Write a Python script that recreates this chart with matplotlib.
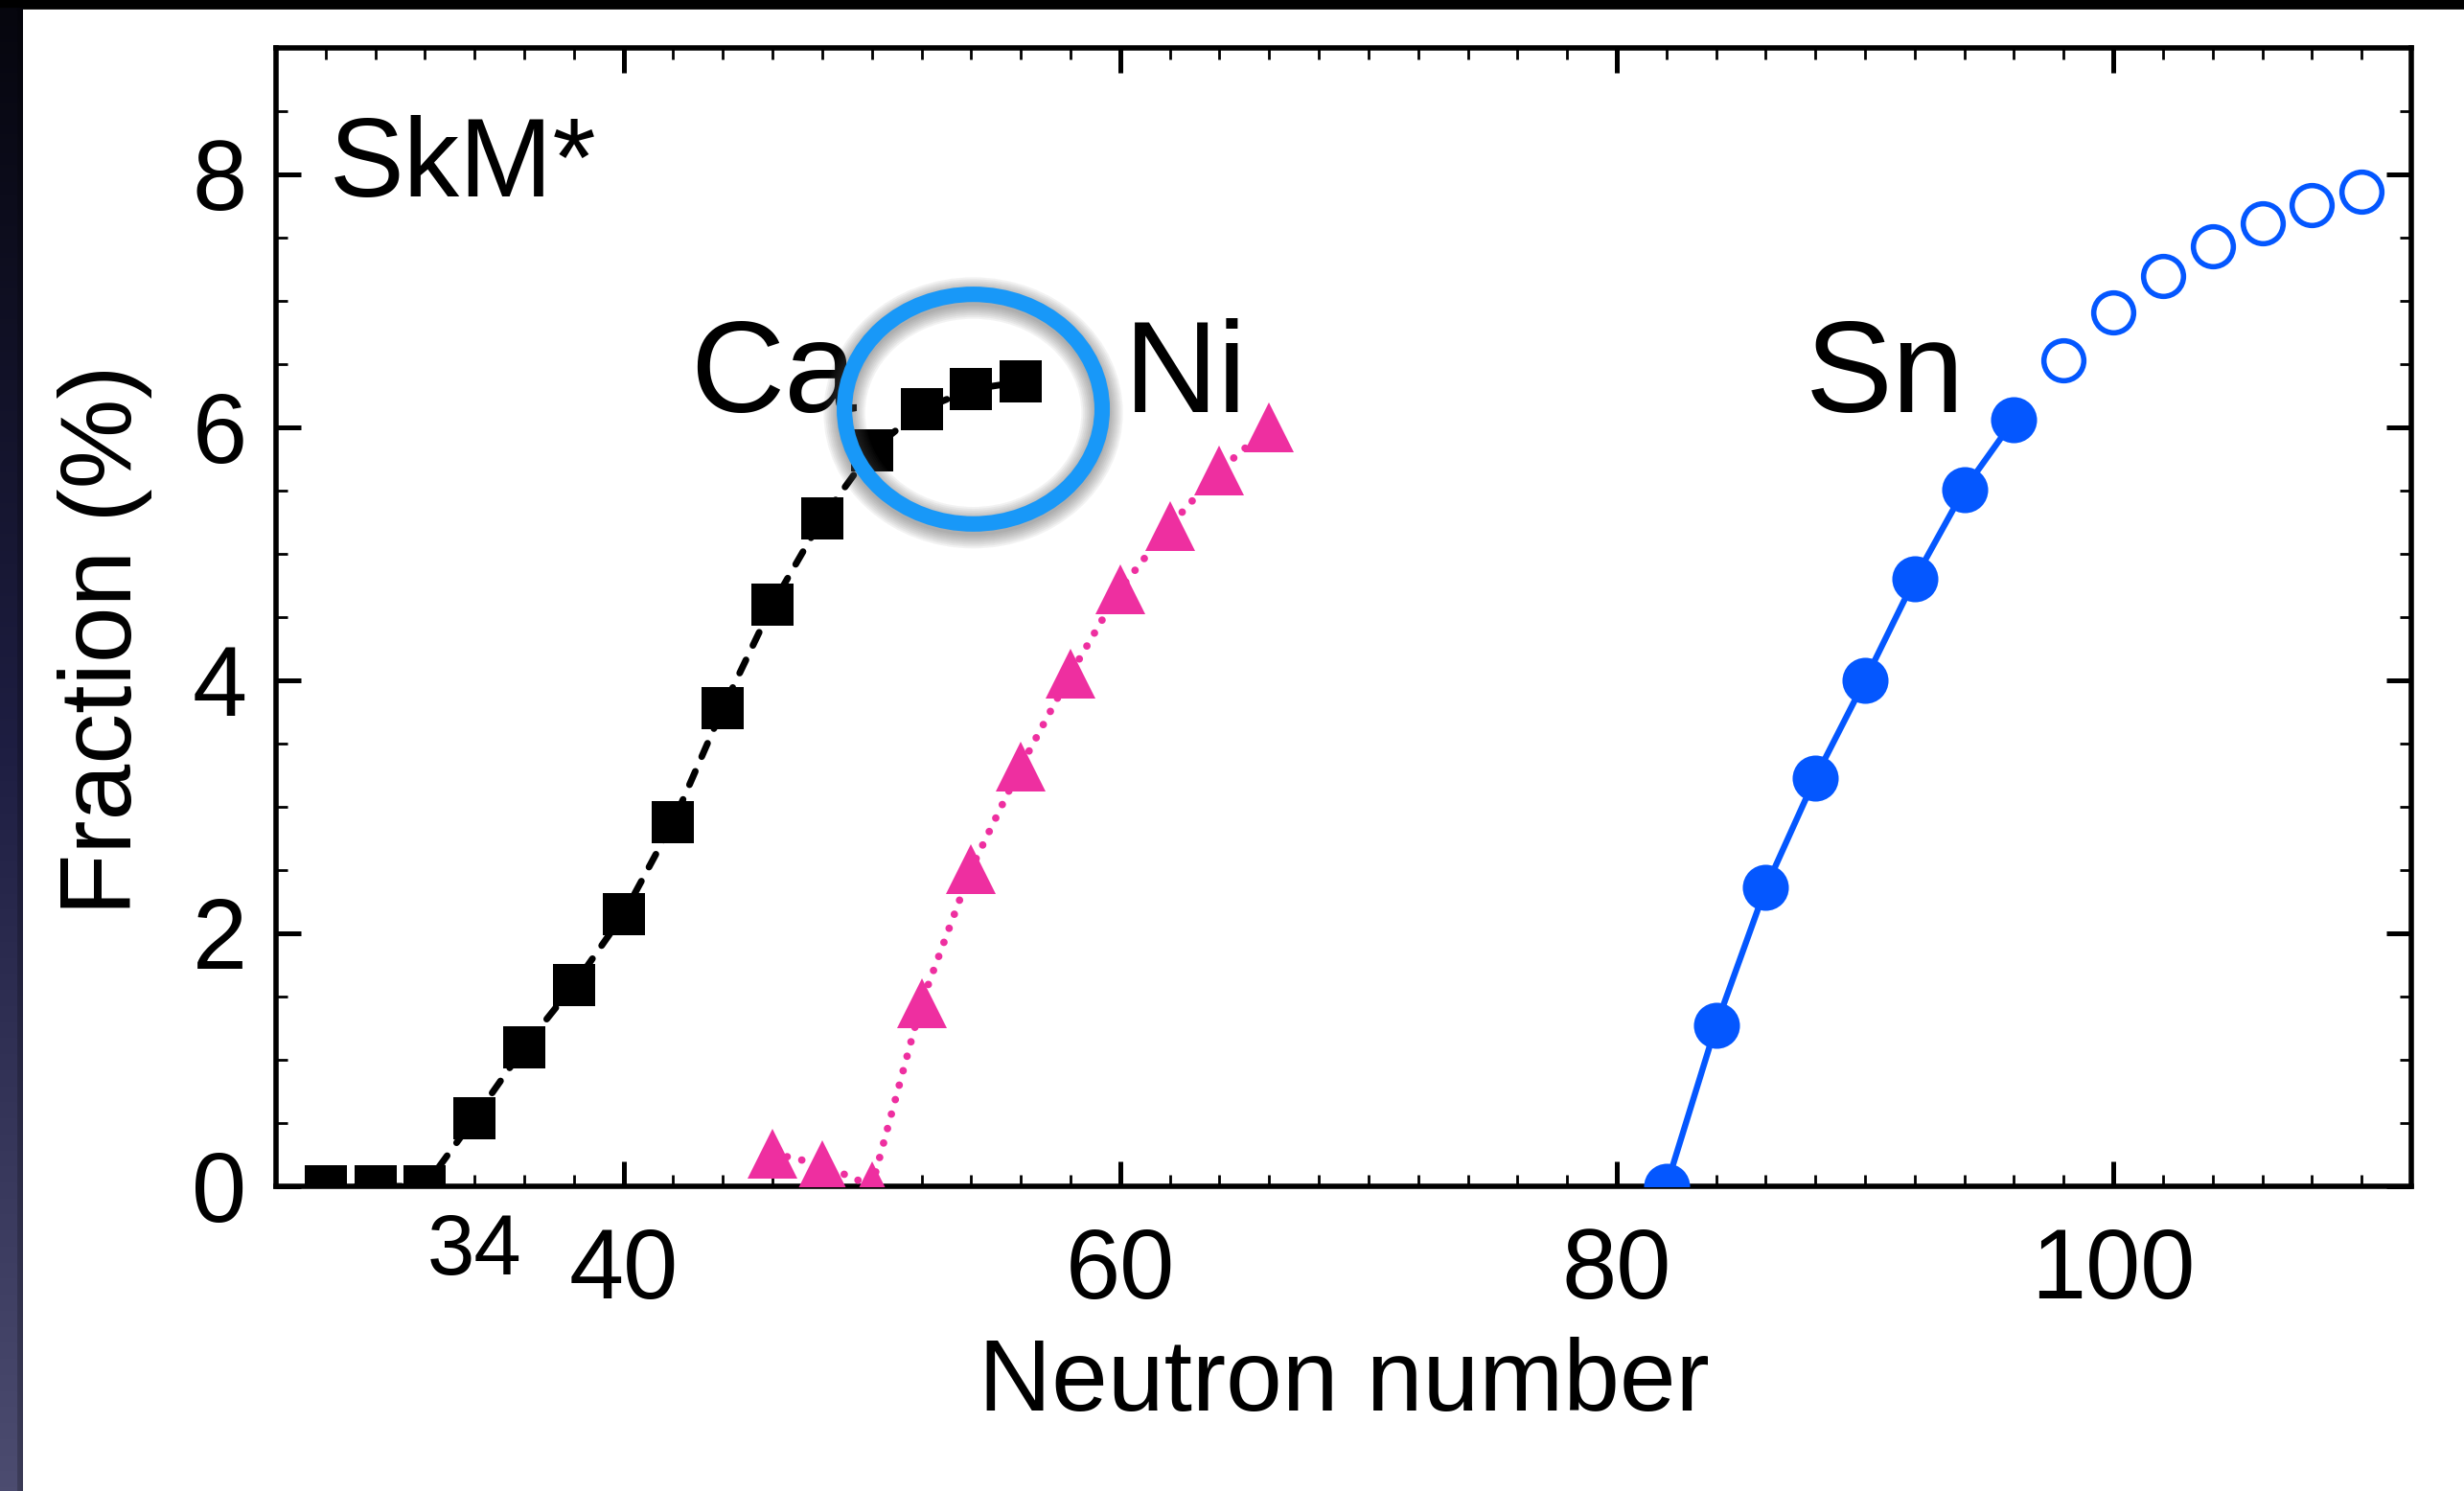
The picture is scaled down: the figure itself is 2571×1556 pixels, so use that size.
import numpy as np
import matplotlib
matplotlib.use("Agg")
import matplotlib.pyplot as plt
from matplotlib.patches import Ellipse, Rectangle
from matplotlib.ticker import MultipleLocator, FixedLocator
from matplotlib.transforms import blended_transform_factory

# neutron number / fraction (%)
ca_n = [28, 30, 32, 34, 36, 38, 40, 42, 44, 46, 48, 50, 52, 54, 56]
ca_frac = [0.0, 0.0, 0.0, 0.54, 1.1, 1.59, 2.15, 2.88, 3.78, 4.6, 5.28, 5.82, 6.14, 6.30, 6.36]

ni_n = [46, 48, 50, 52, 54, 56, 58, 60, 62, 64, 66]
ni_frac = [0.26, 0.17, 0.0, 1.45, 2.51, 3.32, 4.05, 4.72, 5.22, 5.66, 6.0]

sn_n = [82, 84, 86, 88, 90, 92, 94, 96]
sn_frac = [0.0, 1.27, 2.36, 3.23, 4.0, 4.8, 5.51, 6.06]

sn_open_n = [98, 100, 102, 104, 106, 108, 110]
sn_open_frac = [6.53, 6.91, 7.20, 7.43, 7.61, 7.76, 7.86]

x_major = [40, 60, 80, 100]
y_major = [0, 2, 4, 6, 8]

BLACK = "#000000"
PINK = "#ee2fa0"
BLUE = "#0457ff"
RING = "#1898f8"

plt.rcParams["font.family"] = ["Liberation Sans", "DejaVu Sans"]

fig = plt.figure(figsize=(12.855, 7.78), dpi=200, facecolor="white")
ax = fig.add_axes([0.112, 0.2044, 0.8666, 0.7635])

ax.plot(ca_n, ca_frac, color=BLACK, lw=2.5, dashes=(2.2, 2.4),
        dash_capstyle="round", marker="s", ms=16, mew=0, zorder=3)
ax.plot(ni_n, ni_frac, color=PINK, lw=2.8, dashes=(0.01, 2.0),
        dash_capstyle="round", marker="^", ms=18.5, mew=0, zorder=3)
ax.plot(sn_n, sn_frac, color=BLUE, lw=2.3, marker="o", ms=17.3, mew=0, zorder=3)
ax.plot(sn_open_n, sn_open_frac, ls="none", marker="o", ms=15, mew=2.0,
        mfc="white", mec=BLUE, zorder=3)

ax.set_xlim(26, 112)
ax.set_ylim(0, 9)
ax.xaxis.set_major_locator(FixedLocator(x_major))
ax.xaxis.set_minor_locator(MultipleLocator(2))
ax.yaxis.set_major_locator(FixedLocator(y_major))
ax.yaxis.set_minor_locator(MultipleLocator(0.5))

for s in ax.spines.values():
    s.set_linewidth(2.0)
ax.tick_params(which="both", direction="in", top=True, right=True)
ax.tick_params(which="major", length=9.5, width=1.8, labelsize=37)
ax.tick_params(which="minor", length=4.3, width=1.0)
ax.tick_params(axis="x", which="major", pad=15)
ax.tick_params(axis="y", which="major", pad=11)

ax.set_xlabel("Neutron number", fontsize=38)
ax.xaxis.set_label_coords(0.5, -0.132)
ax.set_ylabel("Fraction (%)", fontsize=38)
ax.yaxis.set_label_coords(-0.058, 0.48)

# extra small tick label under N=34
trans = blended_transform_factory(ax.transData, ax.transAxes)
ax.text(34, -0.0774, "34", transform=trans, fontsize=32, ha="center",
        va="baseline", clip_on=False)

ax.text(0.025, 0.8695, "SkM*", transform=ax.transAxes, fontsize=42,
        va="baseline")
ax.text(42.7, 6.12, "Ca", fontsize=49, va="baseline")
ax.text(60.15, 6.12, "Ni", fontsize=49, va="baseline")
ax.text(87.6, 6.12, "Sn", fontsize=49, va="baseline")

# highlight ring with a soft drop shadow (figure coords)
cx, cy = 0.395, 0.7256
ew, eh = 0.1046, 0.154
for k in range(8):
    fig.add_artist(Ellipse((cx, cy - 0.0025), ew, eh, transform=fig.transFigure,
                           fill=False, ec="#505050", lw=5.8 + 1.4 * k,
                           alpha=0.07, zorder=8))
fig.add_artist(Ellipse((cx, cy), ew, eh, transform=fig.transFigure,
                       fill=False, ec=RING, lw=5.8, zorder=9))

# slide frame: black strip on top, dark gradient on the left
fig.add_artist(Rectangle((0, 1 - 8 / 1556), 1, 8 / 1556, transform=fig.transFigure,
                         color="black", zorder=10))
band = fig.add_axes([0, 0, 24 / 2571, 1 - 8 / 1556], zorder=10)
top_c = np.array([6, 6, 14]) / 255
mid_c = np.array([30, 30, 66]) / 255
bot_c = np.array([76, 76, 112]) / 255
rows = np.linspace(0, 1, 200)[:, None]
col = np.where(rows < 0.5, top_c + (mid_c - top_c) * rows / 0.5,
               mid_c + (bot_c - mid_c) * (rows - 0.5) / 0.5)
shade = np.linspace(1.0, 0.75, 24)
img = col[:, None, :] * np.ones((1, 24, 1)) * np.concatenate(
    [np.ones(18), shade[-6:]])[None, :, None]
band.imshow(img, aspect="auto", extent=[0, 1, 0, 1], interpolation="bilinear")
band.set_axis_off()

fig.savefig("out.png", dpi=200, facecolor="white")
